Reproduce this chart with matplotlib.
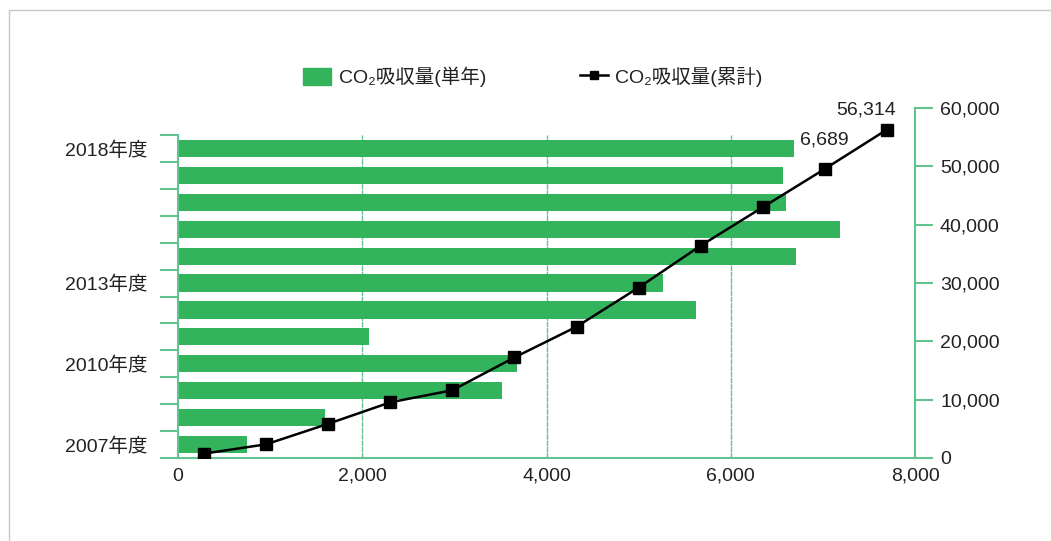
import matplotlib
matplotlib.use("Agg")
import matplotlib.pyplot as plt
import matplotlib.patches as mpatches
from matplotlib.lines import Line2D
from matplotlib.ticker import FuncFormatter
import numpy as np

# Latin text and digits from a Helvetica-like face, kanji from the CJK face
plt.rcParams['font.family'] = ['Liberation Sans', 'Noto Sans CJK JP', 'DejaVu Sans']

# data
years = [2007, 2008, 2009, 2010, 2011, 2012, 2013, 2014, 2015, 2016, 2017, 2018]
yearly = [749, 1596, 3518, 3681, 2074, 5624, 5266, 6710, 7188, 6600, 6569, 6689]
cumulative = [749, 2345, 5863, 9544, 11618, 17242, 22508, 29218, 36406, 43006, 49575, 56314]
labeled_years = [2007, 2010, 2013, 2018]

bar_color = '#33b35b'
axis_color = '#62c38f'
text_color = '#222222'
fs = 14

W, H = 1051, 541
fig = plt.figure(figsize=(W / 100, H / 100), dpi=100)

left = 178 / W
width = 737 / W
bottom = (H - 458) / H

# bars (single year)
ax = fig.add_axes([left, bottom, width, (458 - 135) / H])
y = np.arange(len(years))
ax.barh(y, yearly, height=0.64, color=bar_color, zorder=2)
ax.set_xlim(0, 8000)
ax.set_ylim(-0.5, len(years) - 0.5)
ax.set_xticks([0, 2000, 4000, 6000, 8000])
ax.xaxis.set_major_formatter(FuncFormatter(lambda v, p: f"{int(v):,}"))
ax.tick_params(axis='x', length=0, pad=7, labelsize=fs, colors=text_color)
ax.set_yticks([years.index(yr) for yr in labeled_years])
ax.set_yticklabels([f"{yr}年度" for yr in labeled_years])
ax.set_yticks(np.arange(-0.5, len(years), 1.0), minor=True)
ax.tick_params(axis='y', which='major', length=0, pad=22, labelsize=fs, colors=text_color)
ax.tick_params(axis='y', which='minor', length=13, width=1.5, color=axis_color)
for s in ['top', 'right']:
    ax.spines[s].set_visible(False)
for s in ['left', 'bottom']:
    ax.spines[s].set_color(axis_color)
    ax.spines[s].set_linewidth(1.5)
for gx in [2000, 4000, 6000]:
    ax.axvline(gx, color=axis_color, lw=1, linestyle=(0, (4, 0.5)), zorder=1)

ax.annotate(f"{yearly[-1]:,}", xy=(yearly[-1], y[-1]), xytext=(22, 6),
            textcoords='offset points', ha='center', va='center', fontsize=fs,
            color=text_color)

# line (cumulative)
ax2 = fig.add_axes([left, bottom, width, (458 - 108) / H])
ax2.patch.set_visible(False)
ax2.plot(y, cumulative, color='black', lw=1.8, marker='s', markersize=8, zorder=3)
ax2.set_xlim(-0.419, 11.45)
ax2.set_ylim(0, 60000)
ax2.set_xticks([])
ax2.yaxis.tick_right()
ax2.set_yticks(np.arange(0, 60001, 10000))
ax2.yaxis.set_major_formatter(FuncFormatter(lambda v, p: f"{int(v):,}"))
ax2.tick_params(axis='y', length=13, width=1.5, color=axis_color, pad=5,
                labelsize=fs, labelcolor=text_color)
for s in ['top', 'left', 'bottom']:
    ax2.spines[s].set_visible(False)
ax2.spines['right'].set_color(axis_color)
ax2.spines['right'].set_linewidth(1.5)
ax2.annotate(f"{cumulative[-1]:,}", xy=(y[-1], cumulative[-1]), xytext=(-15, 8),
             textcoords='offset points', ha='center', va='bottom', fontsize=fs,
             color=text_color)

# legend
handles = [mpatches.Patch(color=bar_color),
           Line2D([], [], color='black', lw=1.8, marker='s', markersize=6)]
labels = ['CO₂吸収量(単年)', 'CO₂吸収量(累計)']
fig.legend(handles, labels, loc='center', bbox_to_anchor=(0.507, 0.858), ncol=2,
           frameon=False, fontsize=fs, handlelength=1.45, handleheight=1.0,
           handletextpad=0.4, columnspacing=4.8, labelcolor=text_color)

# thin frame around the picture
fig.patches.append(mpatches.Rectangle((9 / W, -0.1), 1.2, 0.1 + (H - 9.5) / H,
                                      transform=fig.transFigure, fill=False,
                                      edgecolor='#c8c8c8', lw=1))

plt.savefig('out.png', dpi=100)
plt.close()
